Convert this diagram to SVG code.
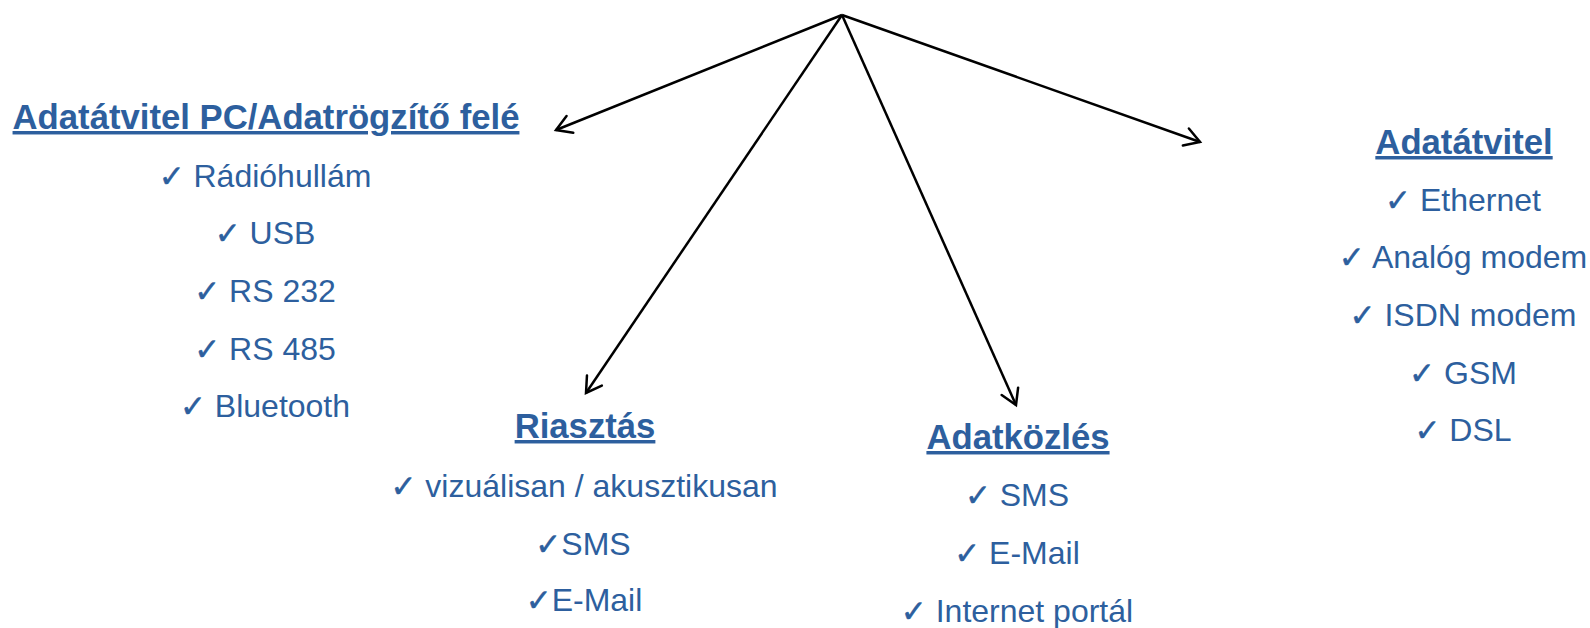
<svg xmlns="http://www.w3.org/2000/svg" width="1590" height="628" viewBox="0 0 1590 628">
<style>
.t{font-family:"Liberation Sans",Arial,sans-serif;font-weight:bold;font-size:34.7px;fill:#2D5F9E;text-anchor:middle;text-decoration:underline}
.i{font-family:"Liberation Sans",Arial,sans-serif;font-size:32px;fill:#2D5F9E;text-anchor:middle}
.c{font-family:"DejaVu Sans",sans-serif;font-size:31px;stroke:#2D5F9E;stroke-width:0.5}
.e{stroke:#000;stroke-width:2.5;fill:none}
</style>
<defs>
<marker id="ah" viewBox="-18 -11 22 22" markerWidth="22" markerHeight="22" refX="0" refY="0" orient="auto" markerUnits="userSpaceOnUse">
<path d="M-15,-9 L0,0 L-15,9" fill="none" stroke="#000" stroke-width="2.5" stroke-linecap="round" stroke-linejoin="miter"/>
</marker>
</defs>
<g id="connectors">
<line class="e" x1="842" y1="15" x2="556" y2="130" marker-end="url(#ah)"/>
<line class="e" x1="842" y1="15" x2="586" y2="393" marker-end="url(#ah)"/>
<line class="e" x1="842" y1="15" x2="1016" y2="405" marker-end="url(#ah)"/>
<line class="e" x1="842" y1="15" x2="1200" y2="142" marker-end="url(#ah)"/>
</g>
<g id="node-pc">
<text class="t" x="266" y="129">Adatátvitel PC/Adatrögzítő felé</text>
<text class="i" x="265" y="187"><tspan class="c">✓</tspan> Rádióhullám</text>
<text class="i" x="265" y="244"><tspan class="c">✓</tspan> USB</text>
<text class="i" x="265" y="302"><tspan class="c">✓</tspan> RS 232</text>
<text class="i" x="265" y="360"><tspan class="c">✓</tspan> RS 485</text>
<text class="i" x="265" y="417"><tspan class="c">✓</tspan> Bluetooth</text>
</g>
<g id="node-riasztas">
<text class="t" x="585" y="438">Riasztás</text>
<text class="i" x="584" y="497"><tspan class="c">✓</tspan> vizuálisan / akusztikusan</text>
<text class="i" x="583" y="555"><tspan class="c">✓</tspan>SMS</text>
<text class="i" x="584" y="611"><tspan class="c">✓</tspan>E-Mail</text>
</g>
<g id="node-adatkozles">
<text class="t" x="1018" y="449">Adatközlés</text>
<text class="i" x="1017" y="506"><tspan class="c">✓</tspan> SMS</text>
<text class="i" x="1017" y="564"><tspan class="c">✓</tspan> E-Mail</text>
<text class="i" x="1017" y="622"><tspan class="c">✓</tspan> Internet portál</text>
</g>
<g id="node-adatatvitel">
<text class="t" x="1464" y="154">Adatátvitel</text>
<text class="i" x="1463" y="211"><tspan class="c">✓</tspan> Ethernet</text>
<text class="i" x="1463" y="268"><tspan class="c">✓</tspan> Analóg modem</text>
<text class="i" x="1463" y="326"><tspan class="c">✓</tspan> ISDN modem</text>
<text class="i" x="1463" y="384"><tspan class="c">✓</tspan> GSM</text>
<text class="i" x="1463" y="441"><tspan class="c">✓</tspan> DSL</text>
</g>
</svg>
